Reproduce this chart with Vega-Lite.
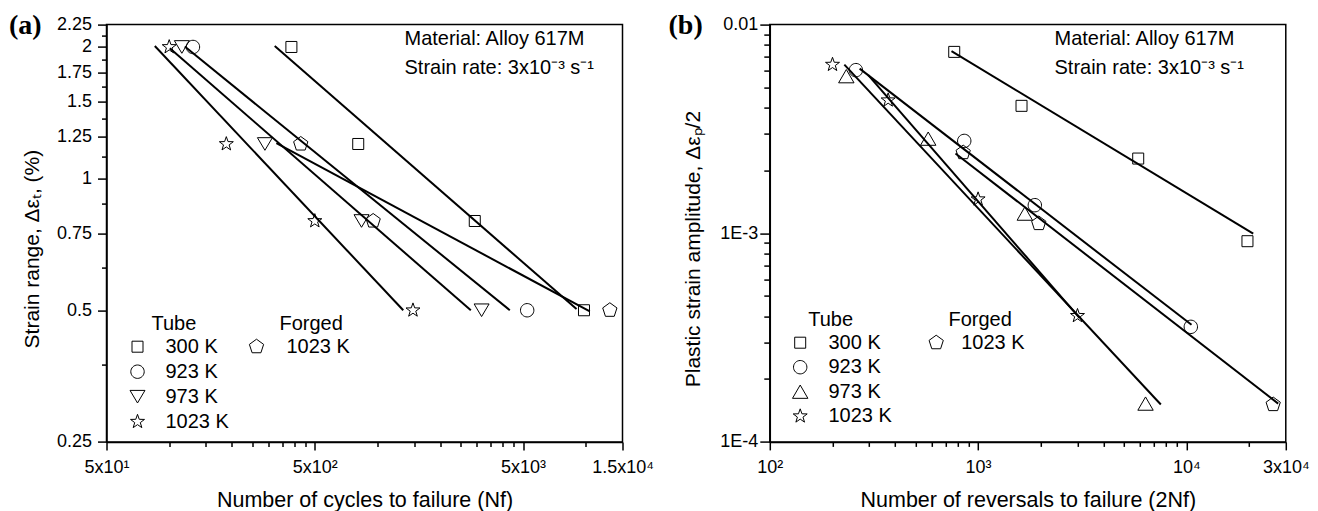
{
  "$schema": "https://vega.github.io/schema/vega-lite/v6.json",
  "padding": {"left": 7.5, "top": 10.6, "right": 5, "bottom": 5},
  "bounds": "flush",
  "spacing": 147.3,
  "config": {
    "view": {"stroke": "black", "strokeWidth": 1.5},
    "font": "Liberation Sans",
    "axis": {"domainColor": "black", "domainWidth": 1.5, "tickColor": "black", "tickWidth": 1.5, "labelColor": "black", "titleColor": "black", "labelFont": "Liberation Sans", "titleFont": "Liberation Sans", "labelFontSize": 18, "titleFontSize": 21, "titleFontWeight": "normal", "grid": false, "labelOverlap": false, "labelFlush": false, "labelBound": false},
    "axisX": {"titleFontSize": 21.5},
    "legend": {"labelFont": "Liberation Sans", "titleFont": "Liberation Sans", "labelFontSize": 20, "titleFontSize": 20, "titleFontWeight": "normal", "labelColor": "black", "titleColor": "black", "symbolSize": 196, "symbolStrokeColor": "black", "symbolFillColor": "transparent", "symbolStrokeWidth": 1, "padding": 0, "titlePadding": 3}
  },
  "datasets": {
    "a_pts": [
      {"group": "Tube", "series": "300 K", "x": 386, "y": 2.0},
      {"group": "Tube", "series": "300 K", "x": 808, "y": 1.2},
      {"group": "Tube", "series": "300 K", "x": 2930, "y": 0.8},
      {"group": "Tube", "series": "300 K", "x": 9800, "y": 0.5},
      {"group": "Tube", "series": "923 K", "x": 130, "y": 2.0},
      {"group": "Tube", "series": "923 K", "x": 5230, "y": 0.5},
      {"group": "Tube", "series": "973 K", "x": 115, "y": 2.0},
      {"group": "Tube", "series": "973 K", "x": 288, "y": 1.2},
      {"group": "Tube", "series": "973 K", "x": 838, "y": 0.8},
      {"group": "Tube", "series": "973 K", "x": 3160, "y": 0.5},
      {"group": "Tube", "series": "1023 K", "x": 100, "y": 2.0},
      {"group": "Tube", "series": "1023 K", "x": 188, "y": 1.2},
      {"group": "Tube", "series": "1023 K", "x": 500, "y": 0.8},
      {"group": "Tube", "series": "1023 K", "x": 1480, "y": 0.5},
      {"group": "Forged", "series": "1023 K", "x": 428, "y": 1.2},
      {"group": "Forged", "series": "1023 K", "x": 953, "y": 0.8},
      {"group": "Forged", "series": "1023 K", "x": 13040, "y": 0.5}
    ],
    "a_fit": [
      {"id": "Tube 300 K", "x": 321, "y": 2.01},
      {"id": "Tube 300 K", "x": 9025, "y": 0.503},
      {"id": "Tube 923 K", "x": 118.8, "y": 2.004},
      {"id": "Tube 923 K", "x": 4316, "y": 0.5},
      {"id": "Tube 973 K", "x": 100.7, "y": 1.987},
      {"id": "Tube 973 K", "x": 2805, "y": 0.5},
      {"id": "Tube 1023 K", "x": 85.3, "y": 2.01},
      {"id": "Tube 1023 K", "x": 1329, "y": 0.5},
      {"id": "Forged 1023 K", "x": 327, "y": 1.205},
      {"id": "Forged 1023 K", "x": 10450, "y": 0.497}
    ],
    "a_note": [
      {"x": 1348, "y": 2.019, "text": "Material: Alloy 617M\nStrain rate: 3x10⁻³ s⁻¹"}
    ],
    "b_pts": [
      {"group": "Tube", "series": "300 K", "x": 768, "y": 0.0074},
      {"group": "Tube", "series": "300 K", "x": 1616, "y": 0.00408},
      {"group": "Tube", "series": "300 K", "x": 5870, "y": 0.00228},
      {"group": "Tube", "series": "300 K", "x": 19640, "y": 0.000916},
      {"group": "Tube", "series": "923 K", "x": 259, "y": 0.00605},
      {"group": "Tube", "series": "923 K", "x": 858, "y": 0.00277},
      {"group": "Tube", "series": "923 K", "x": 1872, "y": 0.001363},
      {"group": "Tube", "series": "923 K", "x": 10500, "y": 0.000356},
      {"group": "Tube", "series": "973 K", "x": 233, "y": 0.00566},
      {"group": "Tube", "series": "973 K", "x": 576, "y": 0.00284},
      {"group": "Tube", "series": "973 K", "x": 1676, "y": 0.001242},
      {"group": "Tube", "series": "973 K", "x": 6365, "y": 0.0001526},
      {"group": "Tube", "series": "1023 K", "x": 200, "y": 0.00643},
      {"group": "Tube", "series": "1023 K", "x": 370, "y": 0.00434},
      {"group": "Tube", "series": "1023 K", "x": 1000, "y": 0.001456},
      {"group": "Tube", "series": "1023 K", "x": 3000, "y": 0.000402},
      {"group": "Forged", "series": "1023 K", "x": 848, "y": 0.002435},
      {"group": "Forged", "series": "1023 K", "x": 1956, "y": 0.001113},
      {"group": "Forged", "series": "1023 K", "x": 26100, "y": 0.000151}
    ],
    "b_fit": [
      {"id": "Tube 300 K", "x": 745, "y": 0.00746},
      {"id": "Tube 300 K", "x": 20930, "y": 0.000996},
      {"id": "Tube 923 K", "x": 270, "y": 0.00615},
      {"id": "Tube 923 K", "x": 10580, "y": 0.000364},
      {"id": "Tube 973 K", "x": 228, "y": 0.00643},
      {"id": "Tube 973 K", "x": 7537, "y": 0.000151},
      {"id": "Tube 1023 K", "x": 297, "y": 0.00572},
      {"id": "Tube 1023 K", "x": 3068, "y": 0.000393},
      {"id": "Forged 1023 K", "x": 779, "y": 0.002413},
      {"id": "Forged 1023 K", "x": 27590, "y": 0.0001526}
    ],
    "b_note": [
      {"x": 2327, "y": 0.00797, "text": "Material: Alloy 617M\nStrain rate: 3x10⁻³ s⁻¹"}
    ]
  },
  "hconcat": [
    {
      "width": 516,
      "height": 417.3,
      "title": {"text": "(a)", "font": "Liberation Serif", "fontSize": 28, "fontWeight": "bold", "color": "black", "anchor": "start", "frame": "group", "baseline": "alphabetic", "offset": 0, "dx": -97.5, "dy": 46.3},
      "layer": [
        {
          "data": {"name": "a_fit"},
          "mark": {"type": "line", "color": "black", "strokeWidth": 2},
          "encoding": {
            "x": {"field": "x", "type": "quantitative", "scale": {"type": "log", "domain": [50, 15000], "nice": false},
              "axis": {"values": [50, 100, 150, 200, 250, 300, 350, 400, 450, 500, 1000, 1500, 2000, 2500, 3000, 3500, 4000, 4500, 5000, 10000, 15000],
                "labelExpr": "datum.value == 50 ? '5x10¹' : datum.value == 500 ? '5x10²' : datum.value == 5000 ? '5x10³' : datum.value == 15000 ? '1.5x10⁴' : ''",
                "tickSize": {"condition": {"test": "datum.value == 50 || datum.value == 500 || datum.value == 5000 || datum.value == 15000", "value": 8}, "value": 4.5},
                "labelPadding": 9,
                "title": "Number of cycles to failure (Nf)", "titleX": 258, "titleY": 47.4, "titleBaseline": "top", "titleAlign": "center"}},
            "y": {"field": "y", "type": "quantitative", "scale": {"type": "log", "domain": [0.25, 2.25], "nice": false},
              "axis": {"values": [0.25, 0.375, 0.5, 0.625, 0.75, 0.875, 1, 1.125, 1.25, 1.375, 1.5, 1.625, 1.75, 1.875, 2, 2.125, 2.25],
                "labelExpr": "datum.value * 4 % 1 == 0 ? format(datum.value, '~g') : ''",
                "tickSize": {"condition": {"test": "datum.value * 4 % 1 == 0", "value": 9}, "value": 5},
                "labelPadding": 6,
                "title": "Strain range, Δεₜ, (%)", "titleAngle": 270, "titleBaseline": "bottom", "titleAlign": "center", "titleX": -63.8, "titleY": 224}},
            "detail": {"field": "id"}
          }
        },
        {
          "data": {"name": "a_pts"},
          "transform": [{"filter": "datum.group == 'Tube'"}],
          "mark": {"type": "point", "filled": false, "color": "black", "strokeWidth": 1, "size": 196, "opacity": 1},
          "encoding": {
            "x": {"field": "x", "type": "quantitative"},
            "y": {"field": "y", "type": "quantitative"},
            "shape": {"field": "series", "type": "nominal",
              "scale": {"domain": ["300 K", "923 K", "973 K", "1023 K"],
                "range": ["M-0.786,-0.786H0.786V0.786H-0.786Z",
                  "M-0.957,0A0.957,0.957,0,1,1,0.957,0A0.957,0.957,0,1,1,-0.957,0Z",
                  "M-1.07,-0.9L1.07,-0.9L0,0.9Z",
                  "M0,-1.05L0.247,-0.34L0.999,-0.324L0.399,0.13L0.617,0.849L0,0.42L-0.617,0.849L-0.399,0.13L-0.999,-0.324L-0.247,-0.34Z"]},
              "legend": {"title": "Tube", "orient": "none", "legendX": 45, "legendY": 289.1, "symbolOffset": -24, "labelOffset": 18, "rowPadding": 5}}
          }
        },
        {
          "data": {"name": "a_pts"},
          "transform": [{"filter": "datum.group == 'Forged'"}],
          "mark": {"type": "point", "filled": false, "color": "black", "strokeWidth": 1, "size": 196, "opacity": 1},
          "encoding": {
            "x": {"field": "x", "type": "quantitative"},
            "y": {"field": "y", "type": "quantitative"},
            "shape": {"field": "series", "type": "nominal",
              "scale": {"domain": ["1023 K"], "range": ["M0,-1.07L1.018,-0.331L0.629,0.866L-0.629,0.866L-1.018,-0.331Z"]},
              "legend": {"title": "Forged", "orient": "none", "legendX": 173, "legendY": 289.1, "symbolOffset": -33, "labelOffset": 20, "rowPadding": 5}}
          }
        },
        {
          "data": {"name": "a_note"},
          "mark": {"type": "text", "align": "left", "baseline": "alphabetic", "lineBreak": "\n", "lineHeight": 28.4, "fontSize": 20, "color": "black"},
          "encoding": {
            "x": {"field": "x", "type": "quantitative"},
            "y": {"field": "y", "type": "quantitative"},
            "text": {"field": "text"}
          }
        }
      ],
      "resolve": {"scale": {"shape": "independent"}}
    },
    {
      "width": 516,
      "height": 417.3,
      "title": {"text": "(b)", "font": "Liberation Serif", "fontSize": 28, "fontWeight": "bold", "color": "black", "anchor": "start", "frame": "group", "baseline": "alphabetic", "offset": 0, "dx": -101.3, "dy": 46.3},
      "layer": [
        {
          "data": {"name": "b_fit"},
          "mark": {"type": "line", "color": "black", "strokeWidth": 2},
          "encoding": {
            "x": {"field": "x", "type": "quantitative", "scale": {"type": "log", "domain": [100, 30000], "nice": false},
              "axis": {"values": [100, 200, 300, 400, 500, 600, 700, 800, 900, 1000, 2000, 3000, 4000, 5000, 6000, 7000, 8000, 9000, 10000, 20000, 30000],
                "labelExpr": "datum.value == 100 ? '10²' : datum.value == 1000 ? '10³' : datum.value == 10000 ? '10⁴' : datum.value == 30000 ? '3x10⁴' : ''",
                "tickSize": {"condition": {"test": "datum.value == 100 || datum.value == 1000 || datum.value == 10000 || datum.value == 30000", "value": 8}, "value": 4.5},
                "labelPadding": 9,
                "title": "Number of reversals to failure (2Nf)", "titleX": 258, "titleY": 47.4, "titleBaseline": "top", "titleAlign": "center"}},
            "y": {"field": "y", "type": "quantitative", "scale": {"type": "log", "domain": [0.0001, 0.01], "nice": false},
              "axis": {"values": [0.0001, 0.0002, 0.0003, 0.0004, 0.0005, 0.0006, 0.0007, 0.0008, 0.0009, 0.001, 0.002, 0.003, 0.004, 0.005, 0.006, 0.007, 0.008, 0.009, 0.01],
                "labelExpr": "datum.value == 0.0001 ? '1E-4' : datum.value == 0.001 ? '1E-3' : datum.value == 0.01 ? '0.01' : ''",
                "tickSize": {"condition": {"test": "datum.value == 0.0001 || datum.value == 0.001 || datum.value == 0.01", "value": 10}, "value": 6},
                "labelPadding": 2,
                "title": "Plastic strain amplitude, Δεₚ/2", "titleAngle": 270, "titleBaseline": "bottom", "titleAlign": "center", "titleX": -65.8, "titleY": 224}},
            "detail": {"field": "id"}
          }
        },
        {
          "data": {"name": "b_pts"},
          "transform": [{"filter": "datum.group == 'Tube'"}],
          "mark": {"type": "point", "filled": false, "color": "black", "strokeWidth": 1, "size": 196, "opacity": 1},
          "encoding": {
            "x": {"field": "x", "type": "quantitative"},
            "y": {"field": "y", "type": "quantitative"},
            "shape": {"field": "series", "type": "nominal",
              "scale": {"domain": ["300 K", "923 K", "973 K", "1023 K"],
                "range": ["M-0.786,-0.786H0.786V0.786H-0.786Z",
                  "M-0.957,0A0.957,0.957,0,1,1,0.957,0A0.957,0.957,0,1,1,-0.957,0Z",
                  "M0,-0.95L1.1,0.95L-1.1,0.95Z",
                  "M0,-1.05L0.247,-0.34L0.999,-0.324L0.399,0.13L0.617,0.849L0,0.42L-0.617,0.849L-0.399,0.13L-0.999,-0.324L-0.247,-0.34Z"]},
              "legend": {"title": "Tube", "orient": "none", "legendX": 38.4, "legendY": 285.1, "symbolOffset": -18, "labelOffset": 18.3, "rowPadding": 4.5}}
          }
        },
        {
          "data": {"name": "b_pts"},
          "transform": [{"filter": "datum.group == 'Forged'"}],
          "mark": {"type": "point", "filled": false, "color": "black", "strokeWidth": 1, "size": 196, "opacity": 1},
          "encoding": {
            "x": {"field": "x", "type": "quantitative"},
            "y": {"field": "y", "type": "quantitative"},
            "shape": {"field": "series", "type": "nominal",
              "scale": {"domain": ["1023 K"], "range": ["M0,-1.07L1.018,-0.331L0.629,0.866L-0.629,0.866L-1.018,-0.331Z"]},
              "legend": {"title": "Forged", "orient": "none", "legendX": 178.7, "legendY": 285.1, "symbolOffset": -22.3, "labelOffset": 15, "rowPadding": 4.5}}
          }
        },
        {
          "data": {"name": "b_note"},
          "mark": {"type": "text", "align": "left", "baseline": "alphabetic", "lineBreak": "\n", "lineHeight": 28.4, "fontSize": 20, "color": "black"},
          "encoding": {
            "x": {"field": "x", "type": "quantitative"},
            "y": {"field": "y", "type": "quantitative"},
            "text": {"field": "text"}
          }
        }
      ],
      "resolve": {"scale": {"shape": "independent"}}
    }
  ]
}
